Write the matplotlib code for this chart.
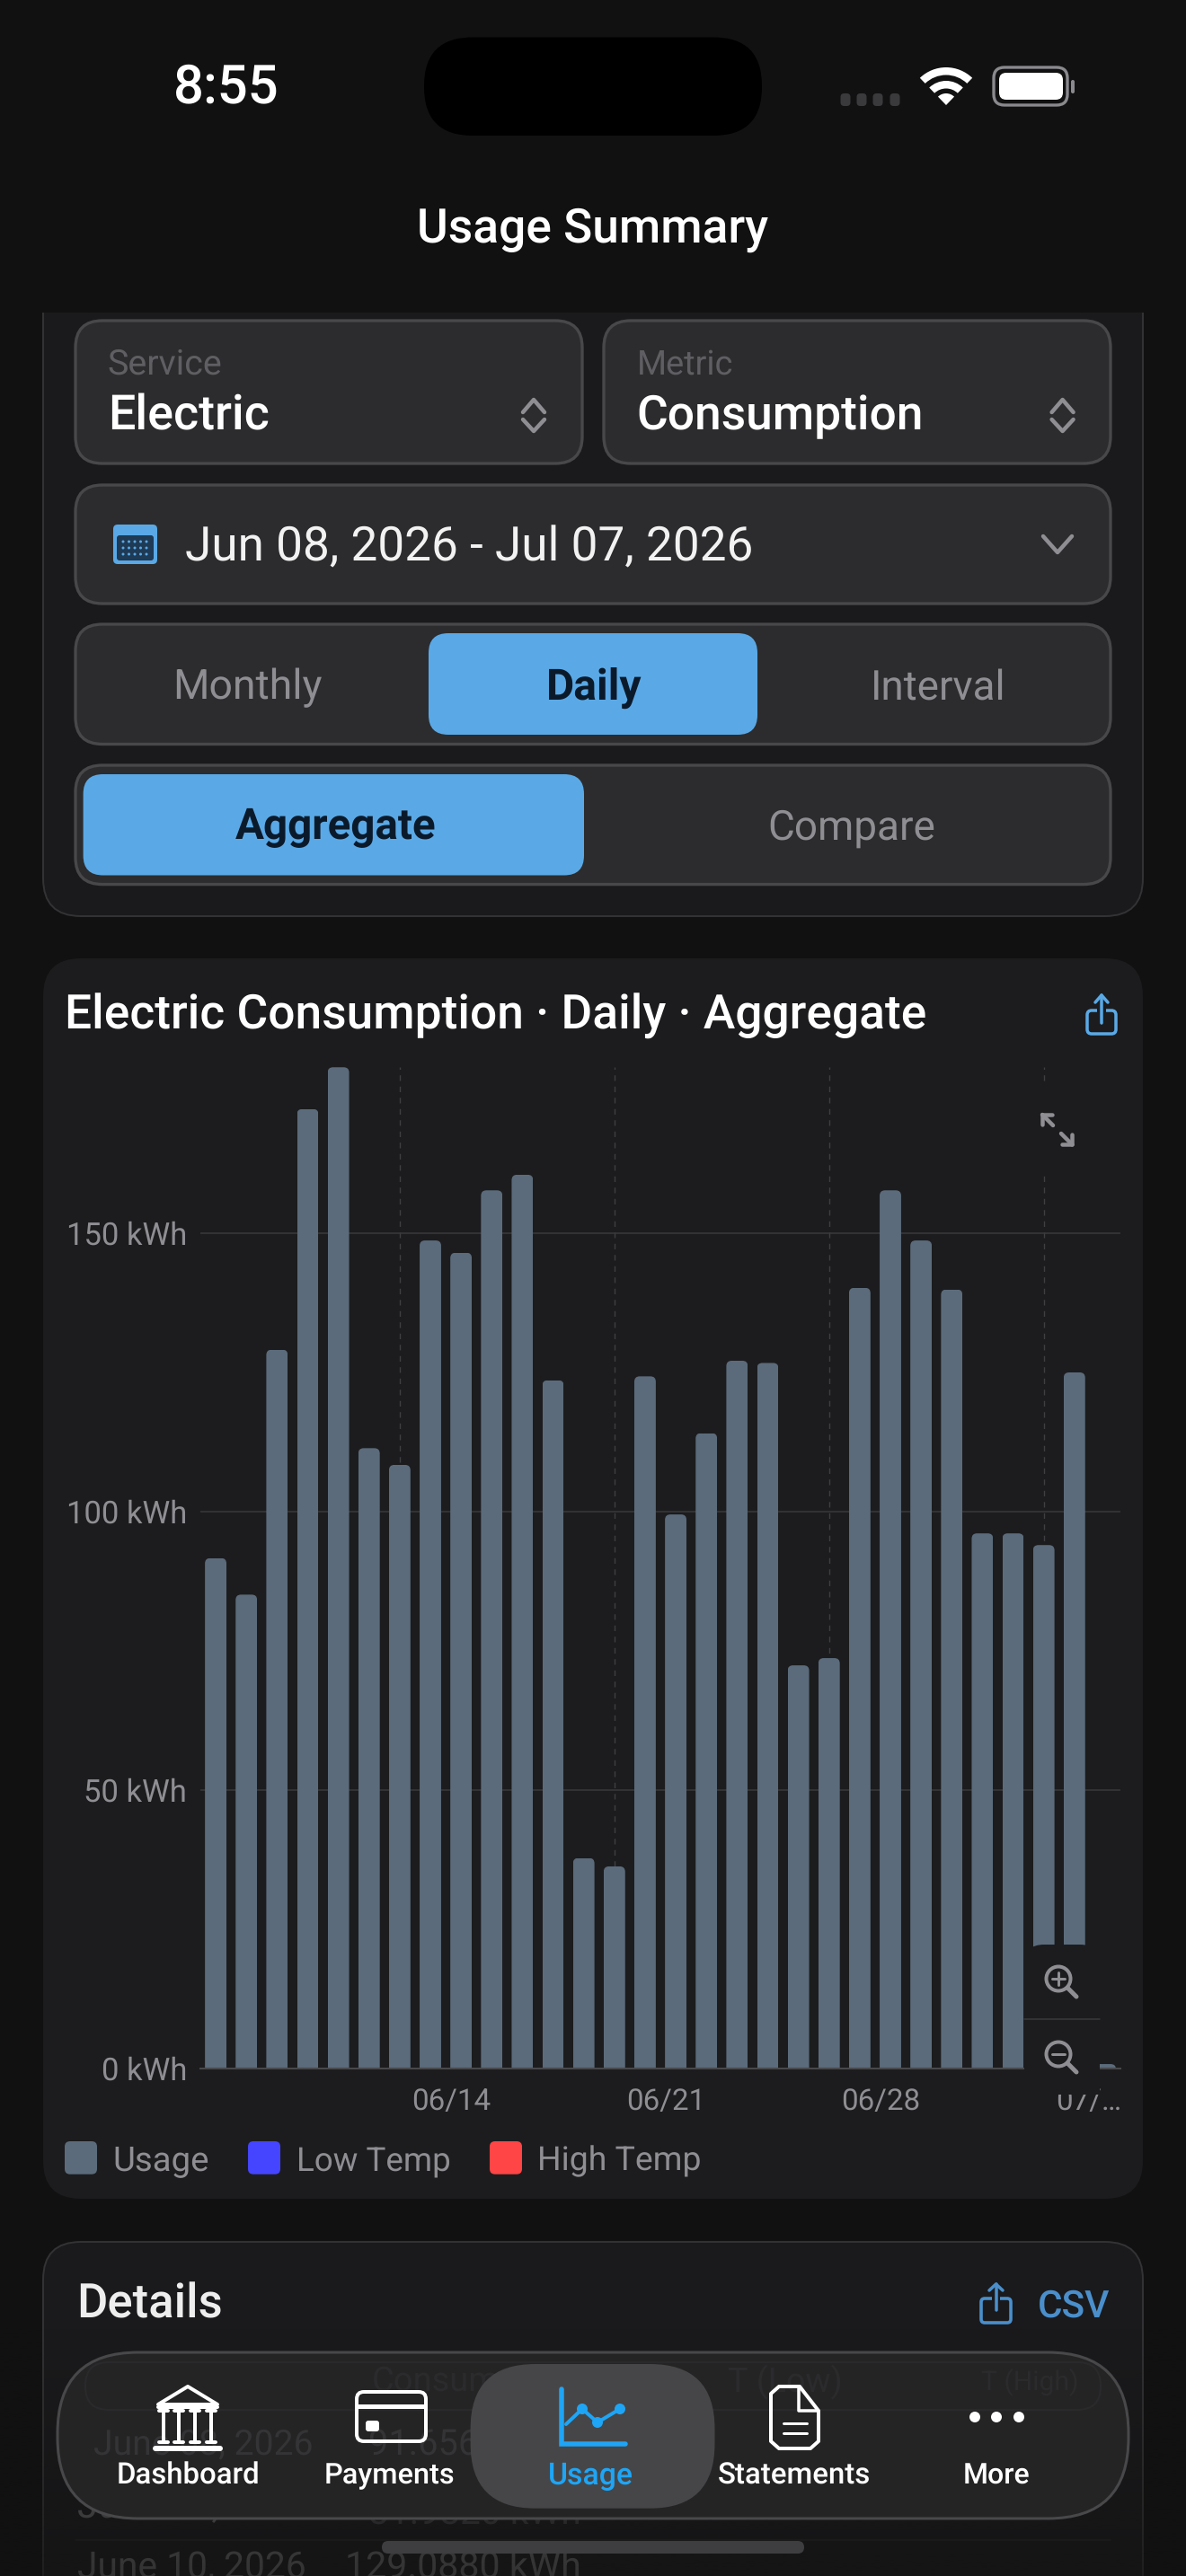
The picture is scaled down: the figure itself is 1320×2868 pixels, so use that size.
import numpy as np
import matplotlib
matplotlib.use("Agg")
import matplotlib.pyplot as plt
from matplotlib.patches import FancyBboxPatch, Rectangle, Circle, Wedge, Polygon
from matplotlib.path import Path
from matplotlib.transforms import ScaledTranslation

plt.rcParams['font.family'] = ['Roboto', 'Inter', 'DejaVu Sans']
plt.rcParams['text.hinting'] = 'none'

# ---- data ----
dates = ['06/08','06/09','06/10','06/11','06/12','06/13','06/14','06/15','06/16','06/17',
         '06/18','06/19','06/20','06/21','06/22','06/23','06/24','06/25','06/26','06/27',
         '06/28','06/29','06/30','07/01','07/02','07/03','07/04','07/05','07/06','07/07']
usage = [91.66, 85.1, 129.09, 172.3, 179.8, 111.4, 108.4, 148.7, 146.5, 157.7,
         160.5, 123.6, 37.8, 36.3, 124.3, 99.5, 114.1, 127.1, 126.7, 72.4,
         73.7, 140.2, 157.7, 148.7, 139.9, 96.1, 96.1, 94.0, 125.0, 0.8]
y_ticks = [0, 50, 100, 150]
y_tick_labels = ['0 kWh', '50 kWh', '100 kWh', '150 kWh']
x_tick_idx = [6, 13, 20, 27]
x_tick_labels = ['06/14', '06/21', '06/28', '07/\u2026']
legend_labels = ['Usage', 'Low Temp', 'High Temp']
legend_colors = ['#5b6b7b', '#4545ff', '#ff4545']
tab_labels = ['Dashboard', 'Payments', 'Usage', 'Statements', 'More']

W, H = 1320, 2868
fig = plt.figure(figsize=(W/100, H/100), dpi=100, facecolor='#111112')
rend = fig.canvas.get_renderer()

def full_axes(z):
    a = fig.add_axes([0, 0, 1, 1], zorder=z)
    a.set_xlim(0, W); a.set_ylim(H, 0); a.axis('off'); a.patch.set_alpha(0)
    return a

bg = full_axes(0)
fg = full_axes(2)

def fit_size(s, width, weight='normal', family=None):
    t = fig.text(0, 0, s, fontsize=20, fontweight=weight)
    if family:
        t.set_family(family)
    w = t.get_window_extent(rend).width
    t.remove()
    return 20*width/w

def T(a, s, x0, x1, yc, color, weight='normal', z=5, alpha=None):
    x0 -= 1.5
    size = fit_size(s, x1-x0+1, weight)
    return a.text(x0, yc+2, s, fontsize=size, color=color, fontweight=weight, ha='left',
                  va='center', zorder=z, alpha=alpha)

def RR(a, x0, y0, x1, y1, r, fc, ec='none', lw=0, z=2, alpha=None):
    p = FancyBboxPatch((x0, y0), x1-x0, y1-y0, boxstyle=f"round,pad=0,rounding_size={r}",
                       fc=fc, ec=ec, lw=lw, zorder=z, alpha=alpha)
    a.add_patch(p)
    return p

def L(a, xs, ys, c, lw=3, z=6, cap='round', join='round'):
    a.plot(xs, ys, color=c, lw=lw*0.72, zorder=z, solid_capstyle=cap, solid_joinstyle=join)

GREY = '#8e8e93'
BLUE = '#5aa9e6'
CTRL = '#2c2c2e'
CARD = '#1a1a1c'

# ---- background cards ----
RR(bg, 48, 250, 1272, 1020, 42, CARD, '#333335', 1.4, z=1)
bg.add_patch(Rectangle((0, 0), W, 348, fc='#111112', ec='none', zorder=1.5))
RR(bg, 48, 1067, 1272, 2448, 42, '#1c1c1e', z=1)
RR(bg, 48, 2496, 1272, 3000, 42, CARD, '#333335', 1.4, z=1)

# status bar
T(bg, '8:55', 194, 309, 96, 'white', 500)
RR(bg, 472, 41.5, 848, 151, 54, 'black')
for x in (941, 959, 977, 996):
    RR(bg, x-5.5, 104, x+5.5, 118, 4, '#3a3a3c')
for r, w in ((42, 8.5), (27, 8.5)):
    bg.add_patch(Wedge((1053, 117), r, 226, 314, width=w, fc='white', zorder=3))
bg.add_patch(Wedge((1053, 117), 13, 226, 314, fc='white', zorder=3))
RR(bg, 1106, 75, 1188, 117, 12, 'none', '#8a8a8e', 2.4, z=3)
RR(bg, 1112, 81, 1183, 111, 8, 'white', z=3)
RR(bg, 1192, 89, 1196, 104, 2, '#8a8a8e', z=3)
T(bg, 'Usage Summary', 465.5, 854, 254, 'white', 500)

# controls
def ctrl(x0, y0, x1, y1, r=30):
    RR(bg, x0, y0, x1, y1, r, CTRL, '#48484a', 2.4, z=2)

def updown(xc):
    L(bg, [xc-12, xc, xc+12], [459, 445, 459], GREY, 4.5)
    L(bg, [xc-12, xc, xc+12], [467, 480, 467], GREY, 4.5)

ctrl(84, 357, 648, 516); ctrl(672, 357, 1236, 516)
T(bg, 'Service', 121, 246, 404, '#5f5f63')
T(bg, 'Electric', 122, 299, 462, 'white', 500)
updown(594)
T(bg, 'Metric', 710, 815, 404, '#5f5f63')
T(bg, 'Consumption', 710, 1027, 462, 'white', 500)
updown(1182.6)

ctrl(84, 540, 1236, 672)
RR(bg, 126, 584, 175, 628, 5, BLUE, z=3)
RR(bg, 130, 596, 171, 624, 3, '#1e3a55', z=4)
for yy in (603, 610, 617):
    for xx in (137, 143.5, 150, 156.5, 163):
        bg.add_patch(Circle((xx, yy), 1.5, fc=BLUE, ec='none', zorder=5))
T(bg, 'Jun 08, 2026 - Jul 07, 2026', 208, 838, 607.5, '#f2f2f2')
L(bg, [1161, 1177, 1193], [597, 615, 597], GREY, 4.5)

ctrl(84, 695, 1236, 828.5)
RR(bg, 477, 705, 843, 818, 22, BLUE, z=3)
T(bg, 'Monthly', 194, 358, 763.6, GREY)
T(bg, 'Daily', 609, 713, 763.6, '#0b1a2b', 700)
T(bg, 'Interval', 970, 1118, 763.6, GREY)

ctrl(84, 852, 1236, 984.6)
RR(bg, 92.6, 862, 650, 974.5, 22, BLUE, z=3)
T(bg, 'Aggregate', 263, 484, 919.6, '#0b1a2b', 700)
T(bg, 'Compare', 856, 1040, 919.6, GREY)

# chart card header
T(bg, 'Electric Consumption \u00b7 Daily \u00b7 Aggregate', 74, 1030, 1129, 'white', 500)

def share(a, xc, ytop, ybox, ybot, hw, c, lw=3.5):
    RR(a, xc-hw, ybox, xc+hw, ybot, 5, 'none', c, lw*0.72, z=6)
    a.add_patch(Rectangle((xc-5, ybox-4), 10, 10, fc='#1c1c1e', ec='none', zorder=6.5))
    L(a, [xc, xc], [ytop, ybox+14], c, lw, z=7)
    L(a, [xc-7, xc, xc+7], [ytop+8, ytop, ytop+8], c, lw, z=7)

share(bg, 1226, 1108, 1125, 1151, 16, BLUE)

# ---- chart ----
L_, R_, T_, B_ = 223, 1247, 1188, 2303
ax = fig.add_axes([L_/W, 1-B_/H, (R_-L_)/W, (B_-T_)/H], zorder=1)
ax.patch.set_alpha(0)
x = np.arange(len(usage))
ax.set_xlim(-0.5, len(usage)-0.5)
ax.set_ylim(0, 179.84)
for s in ax.spines.values():
    s.set_visible(False)
ax.set_axisbelow(True)
ax.yaxis.grid(True, color='#3a3a3c', lw=1.1)
ax.xaxis.grid(True, color='#3f3f41', lw=1.0, ls=(0, (4.5, 4.5)))
bars = ax.bar(x, usage, width=0.70, color='#5b6b7b', zorder=3)
rx, ry = 6/34.13, 6/6.2
for b in bars:
    x0, x1, h = b.get_x(), b.get_x()+b.get_width(), b.get_height()
    r_y = min(ry, h)
    verts = [(x0, 0), (x0, h-r_y), (x0, h), (x0+rx, h), (x1-rx, h), (x1, h), (x1, h-r_y), (x1, 0), (x0, 0)]
    codes = [Path.MOVETO, Path.LINETO, Path.CURVE3, Path.CURVE3, Path.LINETO, Path.CURVE3, Path.CURVE3, Path.LINETO, Path.CLOSEPOLY]
    b.set_clip_path(Path(verts, codes), ax.transData)
ax.axhline(0, color='#48484a', lw=1.5, zorder=4, clip_on=False)
ax.set_yticks(y_ticks, y_tick_labels)
ax.set_xticks(x_tick_idx, x_tick_labels)
ax.tick_params(axis='both', length=0, labelcolor=GREY)
ax.tick_params(axis='y', pad=15*0.72, labelsize=fit_size('150 kWh', 134))
ax.tick_params(axis='x', pad=21*0.72, labelsize=fit_size('06/14', 88))
off = ScaledTranslation(13/100, 0, fig.dpi_scale_trans)
for lbl in ax.get_xticklabels():
    lbl.set_ha('left')
    lbl.set_transform(lbl.get_transform()+off)

# legend
for lab, col, sx, tx0, tx1 in zip(legend_labels, legend_colors, (72, 276, 545), (127, 331, 599), (232, 500, 779)):
    RR(fg, sx, 2384, sx+36, 2420.7, 6, col, z=3)
    T(fg, lab, tx0, tx1, 2404, GREY)

# expand-button panel and icon
fg.add_patch(Rectangle((1122, 1205), 108, 103, fc='#1c1c1e', ec='none', zorder=1))
E = GREY
L(fg, [1160, 1172], [1241, 1253], E, 4.5)
L(fg, [1160, 1160], [1241, 1252], E, 4.5); L(fg, [1160, 1171], [1241, 1241], E, 4.5)
L(fg, [1181, 1193], [1262, 1274], E, 4.5)
L(fg, [1193, 1193], [1263, 1274], E, 4.5); L(fg, [1182, 1193], [1274, 1274], E, 4.5)

# zoom panel: rounded top, square bottom, hides the top of the last tick label
RR(fg, 1140, 2165, 1224, 2260, 22, '#1c1c1e', z=1)
fg.add_patch(Rectangle((1140, 2190), 84, 142, fc='#1c1c1e', ec='none', zorder=1))
L(fg, [1140, 1224], [2248, 2248], '#3a3a3c', 1.5)
for yc, plus in ((2203, True), (2287, False)):
    fg.add_patch(Circle((1178, yc), 13.5, fc='none', ec=E, lw=4*0.72, zorder=6))
    L(fg, [1188, 1198], [yc+10, yc+20], E, 5)
    L(fg, [1171, 1185], [yc, yc], E, 3)
    if plus:
        L(fg, [1178, 1178], [yc-7, yc+7], E, 3)

# details card
T(fg, 'Details', 87, 247, 2563.6, '#eeeeee', 500)
T(fg, 'CSV', 1156, 1234, 2566, '#4a8fcc', 500)
RR(fg, 1092, 2559, 1125, 2586, 4, 'none', '#4a8fcc', 2.6, z=3)
fg.add_patch(Rectangle((1104, 2555), 9, 10, fc=CARD, ec='none', zorder=3.5))
L(fg, [1108.5, 1108.5], [2543, 2572], '#4a8fcc', 3.5)
L(fg, [1101, 1108.5, 1116], [2550, 2543, 2550], '#4a8fcc', 3.5)
T(fg, 'June 09, 2026', 87, 347, 2790, '#5a5a5c', z=2)
T(fg, '81.9820 kWh', 411, 645, 2797, '#3a3a3c', z=2)
L(fg, [84, 1236], [2828, 2828], '#262628', 1.5, z=2)
T(fg, 'June 10, 2026', 87, 339, 2857, '#5c5c5e', z=2)
T(fg, '129.0880 kWh', 385, 645, 2857, '#5c5c5e', z=2)

# bottom fade over the details card
grad = np.zeros((256, 1, 4))
grad[..., :3] = 17/255
grad[:, 0, 3] = np.linspace(0, 0.55, 256)
fg.imshow(grad, extent=(0, W, 2868, 2590), aspect='auto', zorder=2.5, interpolation='bilinear')
fg.set_xlim(0, W); fg.set_ylim(H, 0)

# home indicator
RR(fg, 425, 2829, 895, 2843, 7, '#3e3e40', z=3)

# tab bar
RR(fg, 64, 2619, 1256, 2804, 90, '#242425', '#48484a', 2.2, z=4)
GH = '#343436'
T(fg, 'June 08, 2026', 105, 347, 2720, GH, z=4.1)
T(fg, '91.6560 kWh', 411, 640, 2720, GH, z=4.1)
T(fg, 'Consumption', 415, 640, 2650, '#2b2b2d', z=4.1)
T(fg, 'T (Low)', 812, 937, 2650, '#2b2b2d', z=4.1)
T(fg, 'T (High)', 1094, 1200, 2650, '#2b2b2d', z=4.1)
RR(fg, 95, 2630, 1225, 2683, 26, 'none', '#2a2a2c', 1.5, z=4.1)
RR(fg, 523.6, 2632, 795.5, 2792.7, 72, '#464648', z=4.2)

for lab, xc, wd in zip(tab_labels, (209.6, 434, 658, 884, 1109), (157, 143, 92.6, 168, 72)):
    c = '#1fa5f5' if lab == 'Usage' else 'white'
    T(fg, lab, xc-wd/2, xc+wd/2, 2755, c, 500, z=6)

WH = 'white'
# bank icon
fg.add_patch(Polygon([(209, 2657), (176, 2677), (242, 2677)], closed=True, fc='none', ec=WH, lw=4*0.72, zorder=6, joinstyle='round'))
L(fg, [176, 242], [2680, 2680], WH, 4)
for xx in (182, 199, 217, 235):
    L(fg, [xx, xx], [2684, 2719], WH, 4, cap='butt')
    L(fg, [xx-5, xx+5], [2684, 2684], WH, 4); L(fg, [xx-5, xx+5], [2719, 2719], WH, 4)
L(fg, [173, 245], [2726, 2726], WH, 6)
# card icon
RR(fg, 397, 2663, 474, 2718, 8, 'none', WH, 4*0.72, z=6)
fg.add_patch(Rectangle((397, 2677), 77, 5, fc=WH, ec='none', zorder=6))
RR(fg, 407, 2695, 422, 2707, 3, WH, z=6)
# usage icon
UC = '#1fa5f5'
L(fg, [625, 625, 696], [2660, 2721, 2721], UC, 5.5, join='miter')
L(fg, [630, 648, 665, 690], [2699, 2682, 2697, 2682], UC, 4)
for px, py in ((648, 2682), (665, 2697), (690, 2682)):
    fg.add_patch(Circle((px, py), 6, fc=UC, ec='none', zorder=7))
# document icon
fg.add_patch(Polygon([(867, 2657), (890, 2657), (911, 2684), (911, 2718), (902, 2726), (867, 2726), (858, 2718), (858, 2665)],
                     closed=True, fc='none', ec=WH, lw=4*0.72, zorder=6, joinstyle='round'))
L(fg, [889, 889, 911], [2657, 2684, 2684], WH, 3.5)
L(fg, [872, 898], [2698, 2698], WH, 3); L(fg, [872, 898], [2709, 2709], WH, 3)
# more icon
for xx in (1085, 1109, 1134):
    fg.add_patch(Circle((xx, 2691), 6, fc=WH, ec='none', zorder=6))

fig.savefig('out.png', dpi=100, facecolor=fig.get_facecolor())
